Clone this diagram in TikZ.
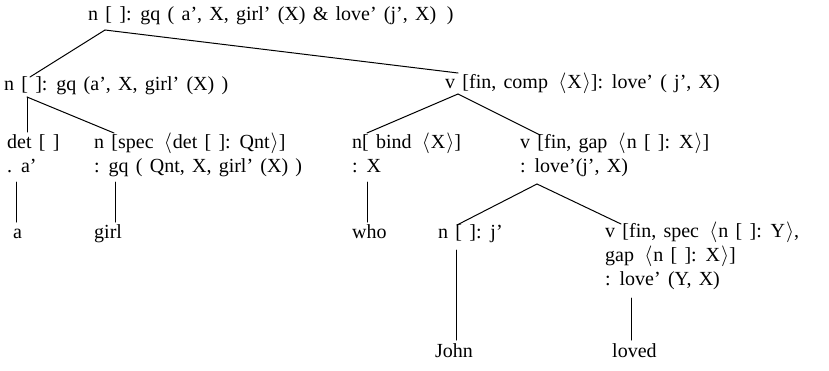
\documentclass[tikz,border=0pt]{standalone}
\usepackage{fontspec}
\setmainfont{Liberation Serif}[WordSpace=1.45]
\usepackage{tikz}
\usetikzlibrary{calc}
\newcommand\angl[1]{\hspace{0.15em}$\langle$\kern1pt#1\kern1pt$\rangle$}
\tikzset{
  catnode/.style={anchor=base west, inner sep=0pt, align=left, font=\fontsize{20}{24}\selectfont},
  catline/.style={line width=1pt, draw=black, line cap=round}
}

\begin{document}
\begin{tikzpicture}[x=1pt,y=-1pt]
  \useasboundingbox (0,0) rectangle (829,370);
  % categories (multi-line nodes sit on their last line)
  \node[catnode] (root) at (88,20) {n [ ]: gq ( a', X, girl' (X) \& love' (j', X)\, )};
  \node[catnode] (lone) at (4,90) {n [ ]: gq (a', X, girl' (X) )};
  \node[catnode] (rone) at (445,88) {v [fin, comp \angl{X}]: love' ( j', X)};
  \node[catnode] (det) at (7,172) {det [ ]\\. a'};
  \node[catnode] (nspec) at (94,172) {n [spec \angl{det [ ]: Qnt}]\\: gq ( Qnt, X, girl' (X) )};
  \node[catnode] (nbind) at (352,172) {n[ bind \angl{X}]\\: X};
  \node[catnode] (vgap) at (520,172) {v [fin, gap \angl{n [ ]: X}]\\: love'(j', X)};
  \node[catnode] (nj) at (438,238) {n [ ]: j'};
  \node[catnode] (vspec) at (605,285) {v [fin, spec \angl{n [ ]: Y},\\gap \angl{n [ ]: X}]\\: love' (Y, X)};
  % words
  \node[catnode] (a) at (13,238) {a};
  \node[catnode] (girl) at (94,238) {girl};
  \node[catnode] (who) at (352,238) {who};
  \node[catnode] (john) at (435,357) {John};
  \node[catnode] (loved) at (612,357) {loved};
  % branches
  \draw[catline] ([shift={(17,10)}]root.base west) -- ([shift={(26,-13)}]lone.base west);
  \draw[catline] ([shift={(17,10)}]root.base west) -- ([shift={(13,-15)}]rone.base west);
  \draw[catline] ([shift={(23,7)}]lone.base west) -- ([shift={(20,-40)}]det.base west);
  \draw[catline] ([shift={(23,7)}]lone.base west) -- ([shift={(20,-39)}]nspec.base west);
  \draw[catline] ([shift={(13,6)}]rone.base west) -- ([shift={(15,-39)}]nbind.base west);
  \draw[catline] ([shift={(13,6)}]rone.base west) -- ([shift={(20,-37)}]vgap.base west);
  \draw[catline] ([shift={(17,12)}]vgap.base west) -- ([shift={(19,-13)}]nj.base west);
  \draw[catline] ([shift={(17,12)}]vgap.base west) -- ([shift={(16,-61)}]vspec.base west);
  \draw[catline] ([shift={(9,10)}]det.base west) -- ([shift={(3,-16)}]a.base west);
  \draw[catline] ([shift={(21,10)}]nspec.base west) -- ([shift={(21,-16)}]girl.base west);
  \draw[catline] ([shift={(15,10)}]nbind.base west) -- ([shift={(15,-16)}]who.base west);
  \draw[catline] ([shift={(18,12)}]nj.base west) -- ([shift={(21,-17)}]john.base west);
  \draw[catline] ([shift={(26,13)}]vspec.base west) -- ([shift={(19,-17)}]loved.base west);
\end{tikzpicture}
\end{document}
